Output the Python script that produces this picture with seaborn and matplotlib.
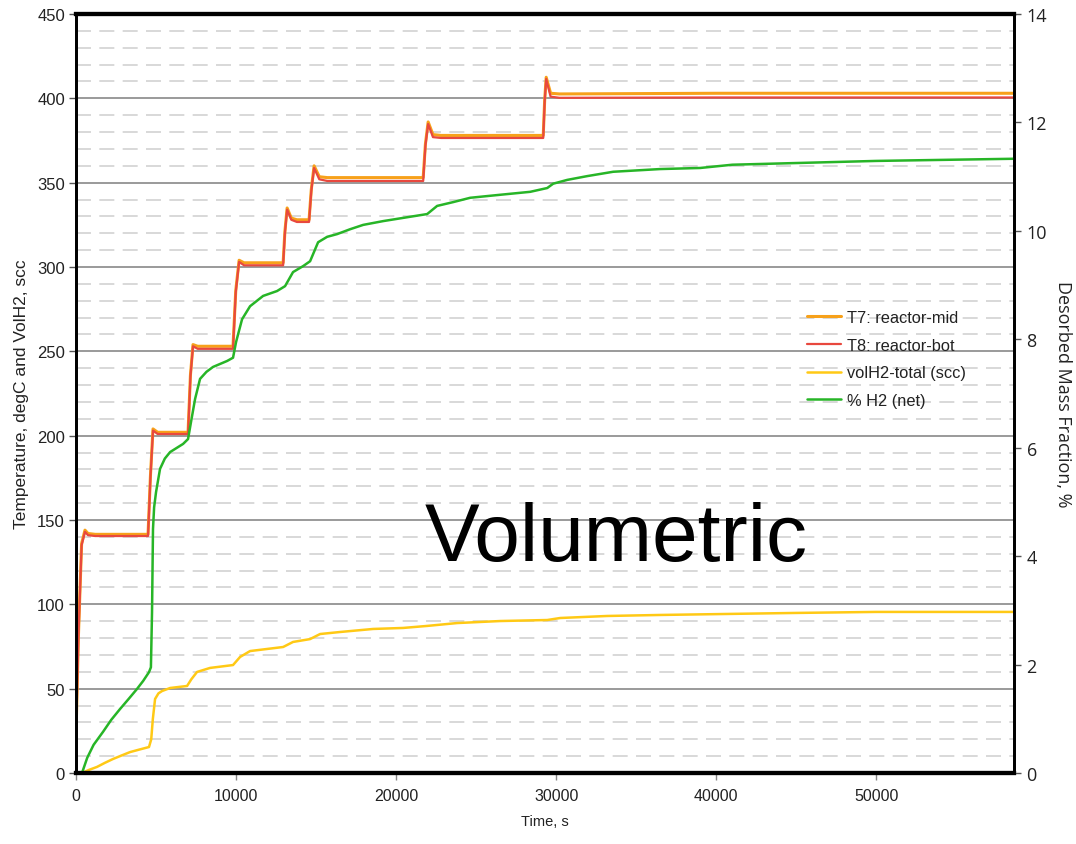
import matplotlib
matplotlib.use("Agg")
import matplotlib.pyplot as plt
from matplotlib.ticker import MultipleLocator
import seaborn as sns
import pandas as pd

# Reactor temperatures, degC (T8 bottom, T7 mid)
time_T = [0, 150, 350, 560, 750, 1200, 4500, 4650, 4810, 5100, 5500, 7000,
          7150, 7310, 7600, 8000, 9810, 9980, 10190, 10500, 11000, 12940,
          13050, 13190, 13450, 13800, 14560, 14700, 14875, 15200, 15700,
          21690, 21830, 22000, 22300, 22800, 29190, 29280, 29375, 29650,
          30200, 40000, 58600]
T8_bot = [21, 80, 135, 143, 141, 140.5, 140.5, 175, 203, 201, 201, 201,
          235, 253, 251.5, 251.5, 251.5, 285, 303, 301, 301, 301,
          320, 334, 328, 326.7, 326.7, 345, 358.7, 352, 351,
          351, 372, 384.8, 377, 376.5, 376.5, 398, 411.5, 401,
          400.3, 400.5, 400.5]
T7_mid = [22, 81, 136, 144, 142, 141.5, 141.5, 176, 204, 202, 202, 202,
          236, 254, 253, 253, 253, 286, 304, 302.5, 302.5, 302.5,
          321, 335, 329, 328, 328, 346, 360, 353.5, 353,
          353, 373, 386, 378.5, 378, 378, 399, 412.5, 403,
          402.6, 403, 403]

# Total hydrogen volume, scc
time_vol = [0, 375, 800, 1310, 1800, 2310, 2850, 3375, 4000, 4560, 4700,
            4800, 4940, 5150, 5375, 5880, 6940, 7200, 7560, 8375, 9810,
            10250, 10875, 12940, 13560, 14625, 15250, 16500, 18560, 20440,
            21940, 23810, 26500, 29440, 30250, 33190, 36500, 45000, 50000,
            58600]
volH2_total = [0, 0, 1.8, 3.6, 6.0, 8.3, 10.4, 12.4, 14.0, 15.4, 20,
               32, 43.9, 47.2, 48.6, 50.4, 51.6, 55.5, 59.9, 62.3, 64,
               68.8, 72.3, 74.7, 77.7, 79.4, 82.4, 83.6, 85.4, 86,
               87.2, 88.9, 90.1, 90.7, 91.9, 93.1, 93.7, 94.9, 95.5,
               95.5]

# Desorbed hydrogen mass fraction, %
time_h2 = [0, 375, 700, 1100, 1690, 2200, 2750, 3300, 3810, 4200, 4560,
           4680, 4750, 4810, 4880, 5000, 5250, 5550, 5880, 6690, 7000,
           7200, 7440, 7750, 8150, 8560, 9440, 9810, 10000, 10375, 10875,
           11690, 12560, 13060, 13560, 14190, 14625, 15125, 15690, 16310,
           17125, 17940, 19190, 20875, 21940, 22560, 23560, 24625, 26310,
           28375, 29440, 29810, 30690, 31940, 33560, 36500, 39000, 41000,
           50000, 58600]
h2_net = [0, 0, 0.28, 0.52, 0.76, 0.98, 1.18, 1.37, 1.55, 1.70, 1.86,
          1.95, 2.97, 4.5, 4.9, 5.18, 5.61, 5.8, 5.92, 6.07, 6.16,
          6.5, 6.9, 7.27, 7.4, 7.49, 7.6, 7.66, 7.95, 8.37, 8.61,
          8.8, 8.89, 8.98, 9.24, 9.35, 9.44, 9.79, 9.89, 9.94,
          10.03, 10.11, 10.18, 10.26, 10.31, 10.46, 10.53, 10.61, 10.66,
          10.72, 10.79, 10.87, 10.94, 11.01, 11.09, 11.14, 11.16, 11.22,
          11.29, 11.33]

legend_labels = ["T7: reactor-mid", "T8: reactor-bot", "volH2-total (scc)", "% H2 (net)"]
colors = ["#F7A11A", "#E8483E", "#FFC915", "#27B527"]

sns.set_theme(style="white")
plt.rcParams["font.family"] = ["Liberation Sans", "DejaVu Sans"]

fig = plt.figure(figsize=(10.76, 8.45), dpi=100)
ax = fig.add_axes([76 / 1076, 1 - 774 / 845, (1014 - 76) / 1076, (774 - 15) / 845])
ax2 = ax.twinx()

temps = pd.DataFrame({"t": time_T, "T7": T7_mid, "T8": T8_bot})
vol = pd.DataFrame({"t": time_vol, "v": volH2_total})
h2 = pd.DataFrame({"t": time_h2, "h": h2_net})

sns.lineplot(data=temps, x="t", y="T7", ax=ax, color=colors[0], lw=2.2,
             estimator=None, label=legend_labels[0], legend=False)
sns.lineplot(data=temps, x="t", y="T8", ax=ax, color=colors[1], lw=1.6,
             estimator=None, label=legend_labels[1], legend=False)
sns.lineplot(data=vol, x="t", y="v", ax=ax, color=colors[2], lw=1.8,
             estimator=None, label=legend_labels[2], legend=False)
sns.lineplot(data=h2, x="t", y="h", ax=ax2, color=colors[3], lw=1.8,
             estimator=None, label=legend_labels[3], legend=False)

ax.set_xlim(0, 58600)
ax.set_ylim(0, 450)
ax2.set_ylim(0, 14)
ax.xaxis.set_major_locator(MultipleLocator(10000))
ax.yaxis.set_major_locator(MultipleLocator(50))
ax.yaxis.set_minor_locator(MultipleLocator(10))
ax2.yaxis.set_major_locator(MultipleLocator(2))

ax.grid(which="major", axis="y", color="#9a9a9a", lw=1.4, ls="-")
ax.grid(which="minor", axis="y", color="#d2d2d2", lw=1.2, ls=(0, (9, 5)))
ax.grid(which="major", axis="x", visible=False)
ax.set_axisbelow(True)

for axis in (ax, ax2):
    for name, sp in axis.spines.items():
        sp.set_color("black")
        sp.set_linewidth(3 if name in ("top", "bottom") else 2)

ax.tick_params(axis="y", which="major", left=True, length=5, width=1, color="#555555",
               labelsize=12, labelcolor="#222222", pad=3)
ax.tick_params(axis="y", which="minor", left=False)
ax.tick_params(axis="x", bottom=True, length=5, width=1, color="#888888",
               labelsize=11.5, labelcolor="#222222", pad=6)
ax2.tick_params(axis="y", right=True, length=5, width=1, color="#555555",
                labelsize=13, labelcolor="#222222", pad=4)
for lbl in ax2.get_yticklabels():
    lbl.set_fontfamily(["Open Sans", "DejaVu Sans"])

ax.set_xlabel("Time, s", fontsize=10.5, color="#222222", labelpad=8)
ax.set_ylabel("Temperature, degC and VolH2, scc", fontsize=12.5, color="#222222", labelpad=6)
ax2.set_ylabel("Desorbed Mass Fraction, %", fontsize=13, color="#222222", rotation=270,
               labelpad=18, fontfamily=["Open Sans", "DejaVu Sans"])

ax.text(33750, 139, "Volumetric", fontsize=59, color="black", ha="center", va="center")

handles = ax.get_lines()[:3] + ax2.get_lines()[:1]
fig.legend(handles, legend_labels, loc="upper left",
           bbox_to_anchor=(792 / 1076, 1 - 296 / 845), frameon=False,
           fontsize=11.8, labelspacing=0.78, handlelength=2.1, handletextpad=0.35,
           labelcolor="#222222")

fig.savefig("out.png", dpi=100)
